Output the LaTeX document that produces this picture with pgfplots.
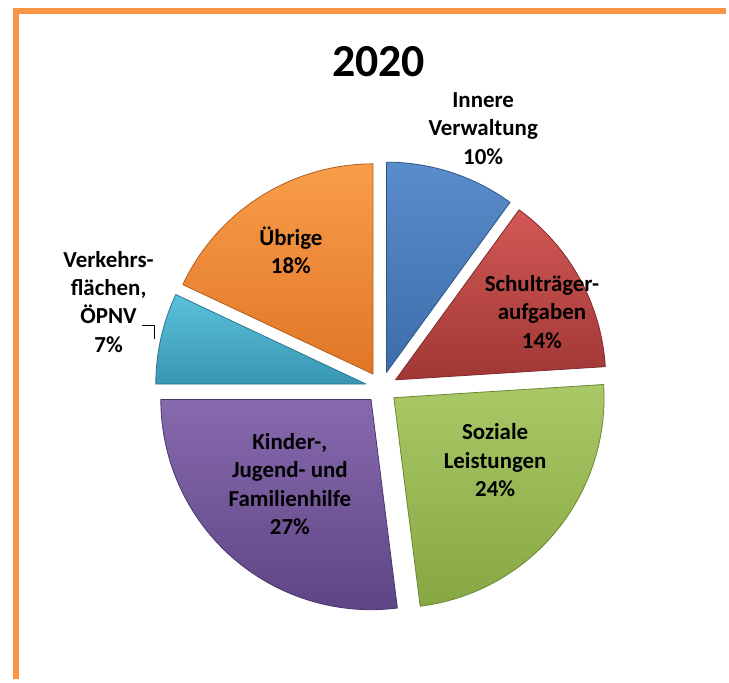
\documentclass[border=0pt]{standalone}
\usepackage{fontspec}
\setmainfont{Carlito}
\usepackage{pgfplots}
\pgfplotsset{compat=1.18}

% slice values (percent), clockwise from 12 o'clock
\def\vInnere{10}
\def\vSchule{14}
\def\vSozial{24}
\def\vKinder{27}
\def\vVerkehr{7}
\def\vUebrige{18}

\pgfmathsetmacro{\aA}{90}
\pgfmathsetmacro{\aB}{\aA-3.6*\vInnere}
\pgfmathsetmacro{\aC}{\aB-3.6*\vSchule}
\pgfmathsetmacro{\aD}{\aC-3.6*\vSozial}
\pgfmathsetmacro{\aE}{\aD-3.6*\vKinder}
\pgfmathsetmacro{\aF}{\aE-3.6*\vVerkehr}
\pgfmathsetmacro{\aG}{\aF-3.6*\vUebrige}

\definecolor{borderorange}{HTML}{F79646}
\definecolor{bluT}{HTML}{5A8DCB}\definecolor{bluB}{HTML}{3B6AA8}
\definecolor{redT}{HTML}{D25855}\definecolor{redB}{HTML}{9E3634}
\definecolor{grnT}{HTML}{A8C966}\definecolor{grnB}{HTML}{86A742}
\definecolor{purT}{HTML}{8A6CB0}\definecolor{purB}{HTML}{5C4484}
\definecolor{aquT}{HTML}{5BC0DA}\definecolor{aquB}{HTML}{3795B0}
\definecolor{oraT}{HTML}{F99D4B}\definecolor{oraB}{HTML}{DE7424}

\def\cx{383}
\def\cy{293}
\def\rr{211pt}
\def\ex{16pt}

% \slice{start}{end}{top color}{bottom color}
\newcommand{\slice}[4]{%
  \path[top color=#3, bottom color=#4, draw=#4!80!black, line width=0.8pt, line join=round]
    (axis cs:\cx,\cy) ++({(#1+#2)/2}:\ex) -- ++(#1:\rr)
    arc[start angle=#1, end angle=#2, radius=\rr] -- cycle;}

\begin{document}
\begin{tikzpicture}
\begin{axis}[
  width=729pt, height=682pt, scale only axis,
  xmin=0, xmax=729, ymin=0, ymax=682,
  enlargelimits=false, hide axis, clip=false]
\path (axis cs:0,0) rectangle (axis cs:729,682);
% frame
\draw[borderorange, line width=5.5pt, line join=miter]
  (axis cs:16,0) -- (axis cs:16,671) -- (axis cs:729,671);
% slices
\slice{\aA}{\aB}{bluT}{bluB}
\slice{\aB}{\aC}{redT}{redB}
\slice{\aC}{\aD}{grnT}{grnB}
\slice{\aD}{\aE}{purT}{purB}
\slice{\aE}{\aF}{aquT}{aquB}
\slice{\aF}{\aG}{oraT}{oraB}
% title
\node[font=\bfseries\fontsize{46}{50}\selectfont] at (axis cs:380,620) {2020};
% labels
\begin{scope}[every node/.style={align=center, font=\bfseries\fontsize{23}{28.5}\selectfont}]
\node at (axis cs:485,553) {Innere\\Verwaltung\\10\%};
\node at (axis cs:544,369) {Schulträger-\\aufgaben\\14\%};
\node at (axis cs:497,220) {Soziale\\Leistungen\\24\%};
\node at (axis cs:291,196) {Kinder-,\\Jugend- und\\Familienhilfe\\27\%};
\node at (axis cs:292,431) {Übrige\\18\%};
\node at (axis cs:109,379) {Verkehrs-\\flächen,\\ÖPNV\\7\%};
\end{scope}
\draw[black, line width=0.8pt] (axis cs:143,355) -- (axis cs:155,355) -- (axis cs:155,342);
\end{axis}
\end{tikzpicture}
\end{document}
